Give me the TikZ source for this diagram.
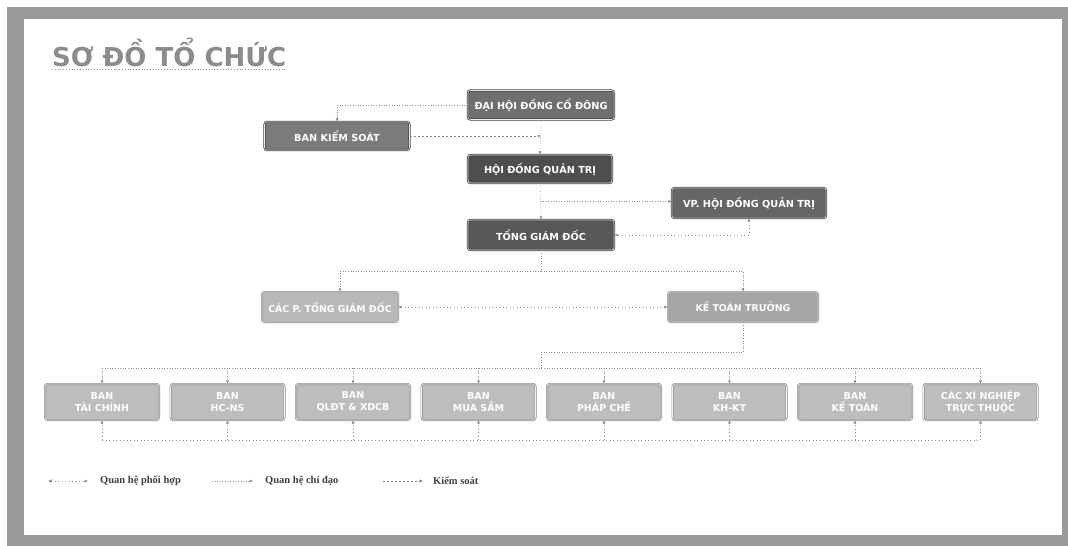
\documentclass[tikz,border=0pt]{standalone}
\usepackage{fontspec}
\setmainfont{DejaVu Sans}
\newfontfamily\legfont{Liberation Serif}
\usetikzlibrary{arrows.meta,calc}
\definecolor{framegray}{HTML}{9A9A9A}
\definecolor{titlegray}{HTML}{8C8C8C}
\definecolor{linegray}{HTML}{8A8A8A}
\definecolor{fdh}{HTML}{6F6F6F}
\definecolor{fbks}{HTML}{7B7B7B}
\definecolor{fhd}{HTML}{4E4E4E}
\definecolor{fvp}{HTML}{666666}
\definecolor{ftgd}{HTML}{585858}
\definecolor{fpgd}{HTML}{B9B9B9}
\definecolor{fktt}{HTML}{A6A6A6}
\definecolor{fbot}{HTML}{BDBDBD}
\tikzset{
  darkbox/.style={rectangle, rounded corners=2.5pt, draw=black!75, line width=0.8pt,
    double=white!85!gray, double distance=0.6pt, text=white,
    font=\fontsize{9.7}{11}\selectfont\bfseries, inner sep=2pt, align=center},
  lightbox/.style={rectangle, rounded corners=2.5pt, draw=gray!90, line width=0.7pt,
    double=white!90!gray, double distance=0.6pt, text=white, fill=fbot,
    font=\fontsize{9.5}{12}\selectfont\bfseries, inner sep=2pt, align=center},
  tip/.style={-{Latex[length=3.2pt,width=3pt]}},
  chidao/.style={draw=linegray, line width=0.6pt, dotted},
  kiemsoat/.style={draw=linegray, line width=0.6pt, dash pattern=on 2pt off 2pt},
  phoihop/.style={draw=linegray, line width=0.6pt, dash pattern=on 1pt off 2.5pt},
  legtext/.style={font=\legfont\fontsize{10.5}{12}\selectfont\bfseries, text=black!75, anchor=west, inner sep=0pt},
}
\begin{document}
\begin{tikzpicture}[x=1pt,y=-1pt]
\useasboundingbox (0,0) rectangle (1068,546);
% frame
\fill[framegray] (7,7) rectangle (1068,546);
\fill[white] (24,19) rectangle (1062,535);
% title
\node[font=\fontsize{26}{29}\selectfont\bfseries, text=titlegray, anchor=west, inner sep=0pt] (title) at (52,52) {SƠ ĐỒ TỔ CHỨC};
\draw[titlegray, dotted, line width=0.8pt] (title.south west) ++(0,3) -- ([yshift=-3pt]title.south east);

% top nodes
\node[darkbox, fill=fdh, minimum width=146pt, minimum height=29pt] (dh) at (541,105) {ĐẠI HỘI ĐỒNG CỔ ĐÔNG};
\node[darkbox, fill=fbks, minimum width=145pt, minimum height=28pt] (bks) at (337,136) {BAN KIỂM SOÁT};
\node[darkbox, fill=fhd, minimum width=144pt, minimum height=28pt] (hdqt) at (540,169) {HỘI ĐỒNG QUẢN TRỊ};
\node[darkbox, fill=fvp, minimum width=154pt, minimum height=30pt] (vp) at (749,203) {VP. HỘI ĐỒNG QUẢN TRỊ};
\node[darkbox, fill=ftgd, minimum width=146pt, minimum height=30pt] (tgd) at (541,235) {TỔNG GIÁM ĐỐC};
\node[lightbox, fill=fpgd, font=\fontsize{9.4}{11}\selectfont\bfseries, minimum width=136pt, minimum height=30pt] (pgd) at (330,307) {CÁC P. TỔNG GIÁM ĐỐC};
\node[lightbox, fill=fktt, font=\fontsize{9.4}{11}\selectfont\bfseries, minimum width=150pt, minimum height=30pt] (ktt) at (743,307) {KẾ TOÁN TRƯỞNG};

% bottom row
\foreach \i/\t in {1/{BAN\\TÀI CHÍNH},2/{BAN\\HC-NS},3/{BAN\\QLĐT \& XDCB},4/{BAN\\MUA SẮM},5/{BAN\\PHÁP CHẾ},6/{BAN\\KH-KT},7/{BAN\\KẾ TOÁN},8/{CÁC XÍ NGHIỆP\\TRỰC THUỘC}}{
  \node[lightbox, minimum width=114pt, minimum height=36pt] (b\i) at ({102+125.5*(\i-1)},402) {\t};
}

% connectors
\draw[chidao,tip] (dh.west) -| (bks.north);
\draw[chidao,tip] (dh.south) -- (hdqt.north);
\draw[kiemsoat,tip] (bks.east) -- (bks.east -| dh.south);
\draw[chidao,tip] (hdqt.south) -- (tgd.north);
\coordinate (m1) at ($(hdqt.south)!0.5!(tgd.north)$);
\draw[chidao,tip] (m1) -- (m1 -| vp.west);
\draw[phoihop,{Latex[length=3.2pt,width=3pt]}-{Latex[length=3.2pt,width=3pt]}] (vp.south) |- (tgd.east);
\coordinate (br) at ($(tgd.south)+(0,21)$);
\draw[chidao] (tgd.south) -- (br);
\draw[chidao,tip] (br) -| ([xshift=10pt]pgd.north);
\draw[chidao,tip] (br) -| (ktt.north);
\draw[phoihop,{Latex[length=3.2pt,width=3pt]}-{Latex[length=3.2pt,width=3pt]}] (pgd.east) -- (ktt.west);
\coordinate (bt) at (541,368);
\coordinate (kb) at ($(ktt.south)+(0,30)$);
\draw[chidao] (ktt.south) -- (kb) -| (bt);
\draw[chidao] (b1.north |- bt) -- (b8.north |- bt);
\foreach \i in {1,...,8}{\draw[chidao,tip] (b\i.north |- bt) -- (b\i.north);}
\coordinate (bb) at (541,440);
\draw[phoihop] (b1.south |- bb) -- (b8.south |- bb);
\foreach \i in {1,...,8}{\draw[phoihop,tip] (b\i.south |- bb) -- (b\i.south);}

% legend
\coordinate (l1a) at (48,481); \coordinate (l1b) at (88,481);
\coordinate (l2a) at (212,481); \coordinate (l2b) at (253,481);
\coordinate (l3a) at (383,481); \coordinate (l3b) at (423,481);
\draw[phoihop,{Latex[length=3.5pt,width=3.5pt]}-{Latex[length=3.5pt,width=3.5pt]}] (l1a) -- (l1b);
\draw[chidao,-{Latex[length=3.5pt,width=3.5pt]}] (l2a) -- (l2b);
\draw[kiemsoat,-{Latex[length=3.5pt,width=3.5pt]}] (l3a) -- (l3b);
\node[legtext] (t1) at (100,481) {Quan hệ phối hợp};
\node[legtext] (t2) at (265,481) {Quan hệ chỉ đạo};
\node[legtext] (t3) at (433,481) {Kiểm soát};
\end{tikzpicture}
\end{document}
